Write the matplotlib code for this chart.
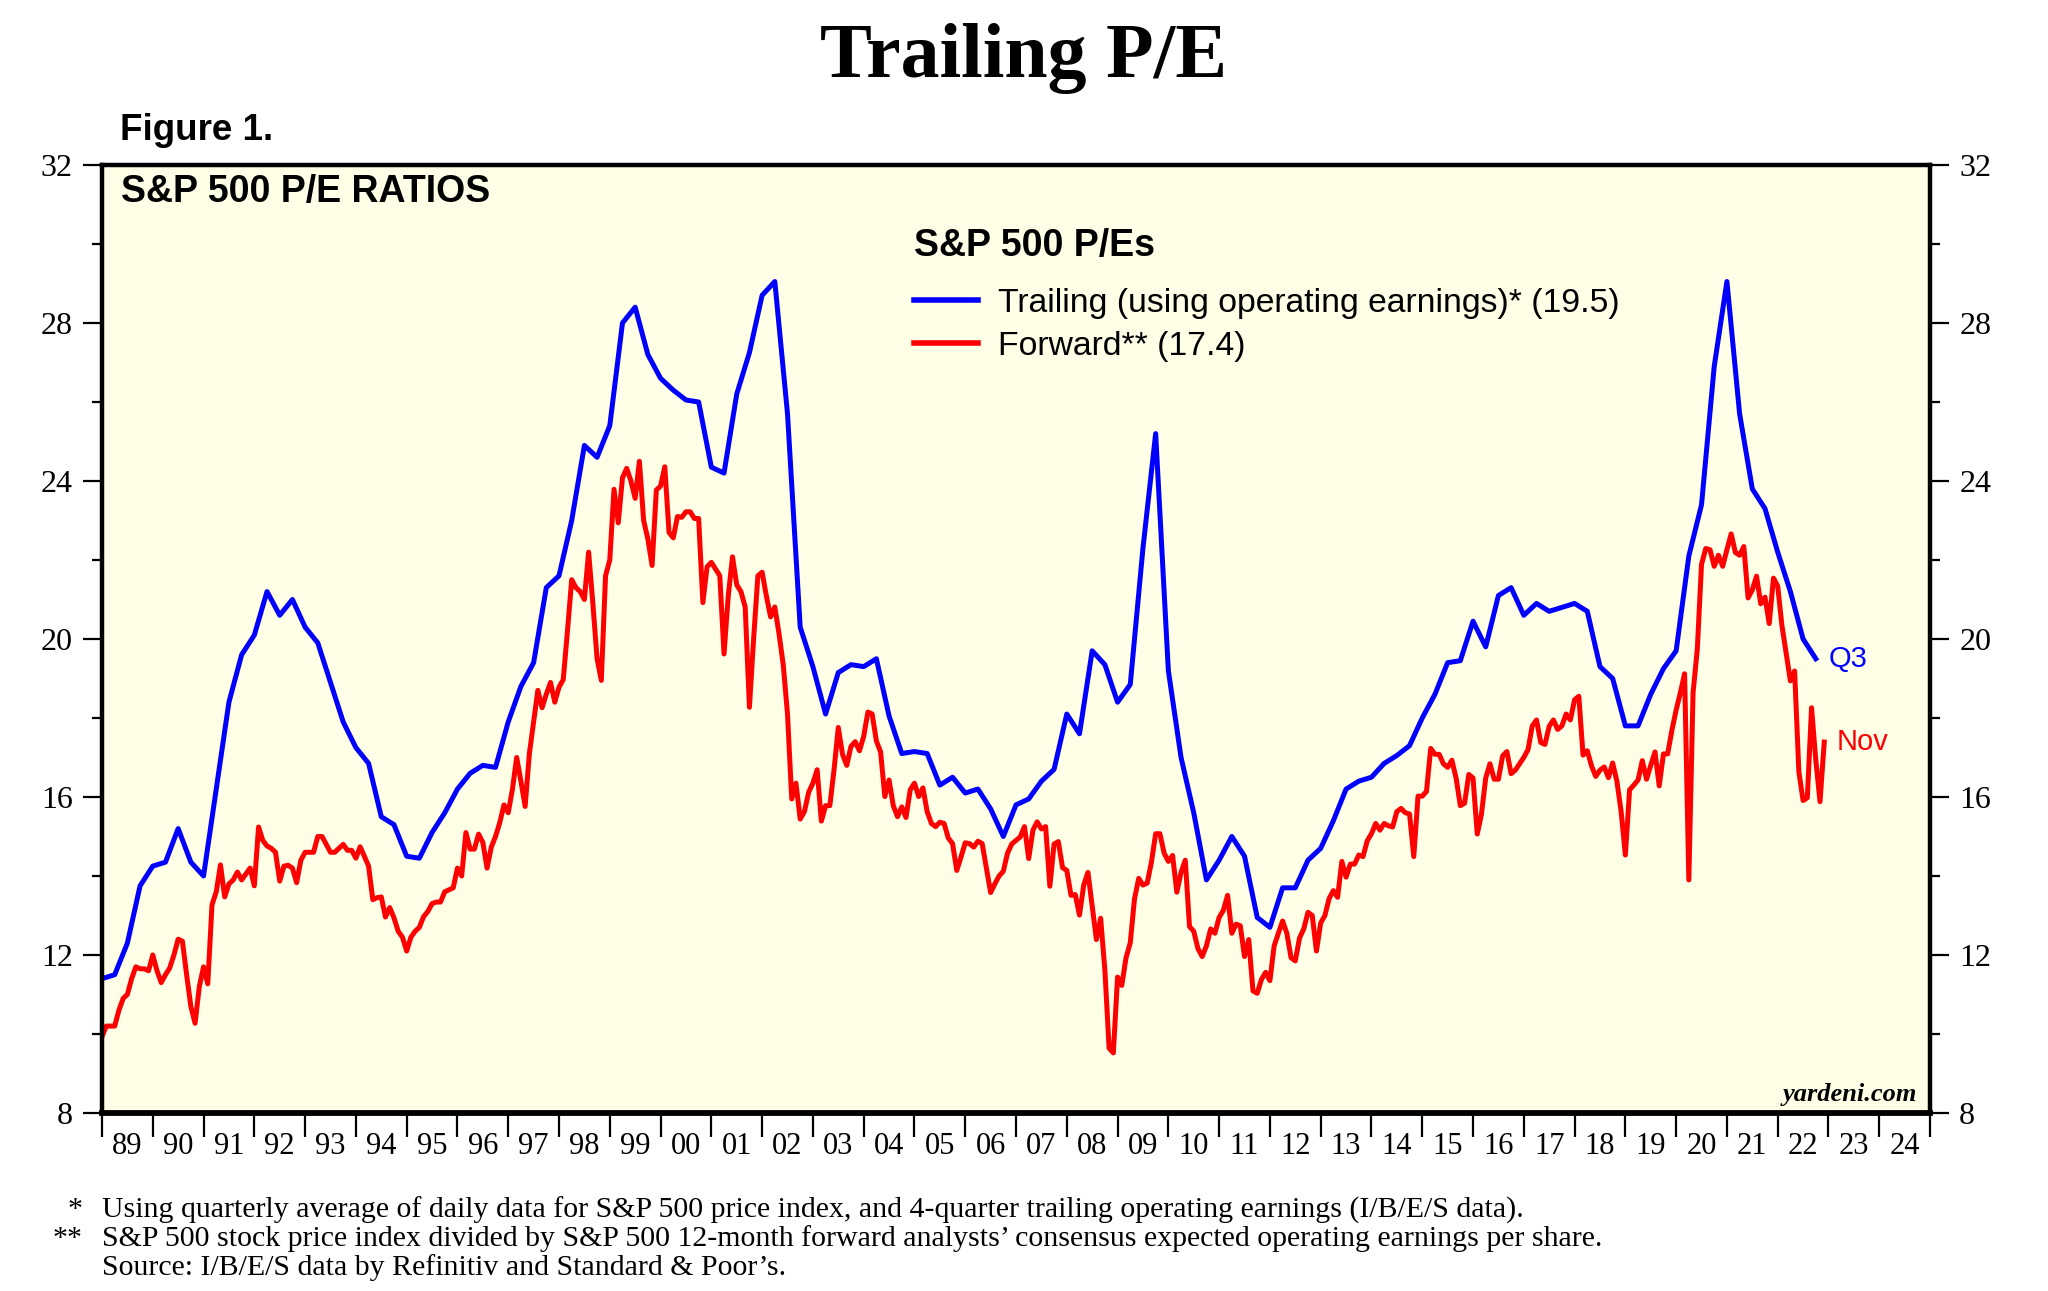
import numpy as np
import matplotlib.pyplot as plt

# S&P 500 trailing P/E (operating earnings), quarterly, 4 values per year
trailing = [
    11.4, 11.5, 12.3, 13.75,     # 89
    14.25, 14.35, 15.2, 14.35,   # 90
    14.0, 16.2, 18.4, 19.6,      # 91
    20.1, 21.2, 20.6, 21.0,      # 92
    20.3, 19.9, 18.9, 17.9,      # 93
    17.25, 16.85, 15.5, 15.3,    # 94
    14.5, 14.45, 15.1, 15.6,     # 95
    16.2, 16.6, 16.8, 16.75,     # 96
    17.9, 18.8, 19.4, 21.3,      # 97
    21.6, 23.0, 24.9, 24.6,      # 98
    25.4, 28.0, 28.4, 27.2,      # 99
    26.6, 26.3, 26.05, 26.0,     # 00
    24.35, 24.2, 26.2, 27.25,    # 01
    28.7, 29.05, 25.7, 20.3,     # 02
    19.3, 18.1, 19.15, 19.35,    # 03
    19.3, 19.5, 18.05, 17.1,     # 04
    17.15, 17.1, 16.3, 16.5,     # 05
    16.1, 16.2, 15.7, 15.0,      # 06
    15.8, 15.95, 16.4, 16.7,     # 07
    18.1, 17.6, 19.7, 19.35,     # 08
    18.4, 18.85, 22.3, 25.2,     # 09
    19.2, 17.0, 15.6, 13.9,      # 10
    14.4, 15.0, 14.5, 12.95,     # 11
    12.7, 13.7, 13.7, 14.4,      # 12
    14.7, 15.4, 16.2, 16.4,      # 13
    16.5, 16.85, 17.05, 17.3,    # 14
    18.0, 18.6, 19.4, 19.45,     # 15
    20.45, 19.8, 21.1, 21.3,     # 16
    20.6, 20.9, 20.7, 20.8,      # 17
    20.9, 20.7, 19.3, 19.0,      # 18
    17.8, 17.8, 18.6, 19.25,     # 19
    19.7, 22.1, 23.4, 26.9,      # 20
    29.05, 25.7, 23.8, 23.3,     # 21
    22.2, 21.2, 20.0, 19.5,      # 22
]

# S&P 500 forward P/E, monthly, 12 values per year
forward = [
    9.93, 10.2, 10.2, 10.2, 10.6, 10.9, 11.0, 11.4, 11.7, 11.65, 11.65, 11.6,          # 89
    12.0, 11.6, 11.3, 11.5, 11.67, 12.0, 12.4, 12.35, 11.5, 10.7, 10.27, 11.2,         # 90
    11.7, 11.27, 13.27, 13.6, 14.28, 13.47, 13.8, 13.9, 14.1, 13.9, 14.05, 14.2,       # 91
    13.75, 15.24, 14.9, 14.76, 14.7, 14.6, 13.87, 14.25, 14.27, 14.2, 13.83, 14.4,     # 92
    14.6, 14.6, 14.6, 15.0, 15.0, 14.8, 14.6, 14.6, 14.7, 14.8, 14.65, 14.65,          # 93
    14.45, 14.74, 14.5, 14.25, 13.4, 13.45, 13.47, 12.96, 13.2, 12.94, 12.6, 12.45,    # 94
    12.1, 12.45, 12.6, 12.7, 12.97, 13.1, 13.3, 13.34, 13.34, 13.6, 13.65, 13.7,       # 95
    14.2, 14.0, 15.1, 14.68, 14.68, 15.06, 14.85, 14.2, 14.73, 15.0, 15.35, 15.8,      # 96
    15.6, 16.2, 17.0, 16.4, 15.76, 17.1, 17.9, 18.7, 18.26, 18.6, 18.9, 18.4,          # 97
    18.78, 18.97, 20.2, 21.5, 21.3, 21.2, 21.0, 22.2, 20.9, 19.5, 18.95, 21.6,         # 98
    22.0, 23.79, 22.94, 24.08, 24.32, 24.0, 23.56, 24.5, 23.0, 22.53, 21.86, 23.77,    # 99
    23.87, 24.36, 22.7, 22.56, 23.1, 23.08, 23.22, 23.22, 23.05, 23.05, 20.92, 21.83,  # 00
    21.94, 21.77, 21.6, 19.62, 21.09, 22.08, 21.37, 21.2, 20.81, 18.27, 20.02, 21.6,   # 01
    21.69, 21.09, 20.56, 20.81, 20.13, 19.34, 18.1, 15.95, 16.35, 15.44, 15.63, 16.12, # 02
    16.35, 16.69, 15.39, 15.78, 15.78, 16.69, 17.76, 17.08, 16.8, 17.28, 17.4, 17.17,  # 03
    17.53, 18.15, 18.1, 17.42, 17.14, 16.01, 16.43, 15.78, 15.5, 15.75, 15.48, 16.18,  # 04
    16.35, 16.01, 16.23, 15.63, 15.33, 15.25, 15.36, 15.33, 14.96, 14.82, 14.14, 14.48, # 05
    14.84, 14.82, 14.73, 14.88, 14.82, 14.2, 13.58, 13.8, 14.0, 14.12, 14.58, 14.81,   # 06
    14.9, 14.99, 15.25, 14.44, 15.16, 15.37, 15.19, 15.25, 13.74, 14.81, 14.87, 14.21, # 07
    14.14, 13.51, 13.53, 13.01, 13.77, 14.09, 13.24, 12.39, 12.93, 11.62, 9.64, 9.52,  # 08
    11.44, 11.23, 11.93, 12.31, 13.42, 13.94, 13.77, 13.82, 14.35, 15.07, 15.07, 14.58, # 09
    14.37, 14.52, 13.59, 14.09, 14.4, 12.72, 12.6, 12.16, 11.96, 12.23, 12.66, 12.55,  # 10
    12.95, 13.13, 13.51, 12.55, 12.78, 12.74, 11.96, 12.39, 11.09, 11.03, 11.38, 11.56, # 11
    11.35, 12.23, 12.55, 12.86, 12.55, 11.93, 11.85, 12.43, 12.66, 13.08, 13.0, 12.1,  # 12
    12.81, 13.0, 13.43, 13.63, 13.46, 14.37, 13.97, 14.3, 14.3, 14.53, 14.49, 14.89,   # 13
    15.07, 15.33, 15.16, 15.33, 15.27, 15.24, 15.63, 15.71, 15.6, 15.57, 14.49, 16.02, # 14
    16.02, 16.14, 17.23, 17.08, 17.08, 16.84, 16.75, 16.93, 16.48, 15.78, 15.84, 16.57, # 15
    16.48, 15.06, 15.57, 16.48, 16.84, 16.45, 16.45, 17.04, 17.15, 16.59, 16.68, 16.84, # 16
    17.0, 17.2, 17.8, 17.95, 17.38, 17.33, 17.79, 17.95, 17.71, 17.8, 18.1, 17.95,     # 17
    18.46, 18.55, 17.06, 17.17, 16.79, 16.52, 16.68, 16.76, 16.49, 16.86, 16.4, 15.63, # 18
    14.53, 16.18, 16.3, 16.43, 16.92, 16.45, 16.8, 17.14, 16.28, 17.09, 17.09, 17.69,  # 19
    18.2, 18.64, 19.12, 13.9, 18.64, 19.74, 21.89, 22.29, 22.26, 21.84, 22.12, 21.84,  # 20
    22.26, 22.66, 22.19, 22.12, 22.34, 21.04, 21.24, 21.59, 20.89, 21.06, 20.39, 21.54, # 21
    21.34, 20.34, 19.64, 18.94, 19.19, 16.64, 15.91, 15.98, 18.26, 16.94, 15.88, 17.39, # 22
]

years = list(range(1989, 2025))
year_labels = [f"{y % 100:02d}" for y in years]
y_ticks = [8, 12, 16, 20, 24, 28, 32]

t_trailing = 1989 + np.arange(len(trailing)) / 4
t_forward = 1989 + np.arange(len(forward)) / 12

serif = "Liberation Serif"
sans = "Liberation Sans"

fig = plt.figure(figsize=(20.48, 12.91), dpi=100)
ax = fig.add_axes([0.0498, 0.1379, 0.8926, 0.7343])
ax.set_facecolor("#fffee6")

ax.plot(t_trailing, trailing, color="#0000ff", lw=3.6,
        label=f"Trailing (using operating earnings)* ({trailing[-1]:.1f})")
ax.plot(t_forward, forward, color="#ff0000", lw=3.6,
        label=f"Forward** ({forward[-1]:.1f})")

ax.set_xlim(1989, 2025)
ax.set_ylim(8, 32)

# x axis: ticks at year boundaries, labels centred in between
ax.set_xticks(np.arange(1989, 2026))
ax.set_xticks(np.array(years) + 0.5, minor=True)
ax.set_xticklabels(year_labels, minor=True, fontfamily=serif, fontsize=22)
ax.tick_params(axis="x", which="major", length=17, width=1.6, labelbottom=False)
ax.tick_params(axis="x", which="minor", length=0, pad=14)

# y axis on both sides
ax.set_yticks(y_ticks)
ax.set_yticks(np.arange(8, 33, 2), minor=True)
ax.yaxis.set_ticks_position("both")
ax.tick_params(axis="y", which="major", length=14, width=1.6, labelright=True,
               labelsize=23, pad=7)
ax.tick_params(axis="y", which="minor", length=7, width=1.6)
for t in ax.yaxis.get_major_ticks():
    t.label1.set_fontfamily(serif)
    t.label2.set_fontfamily(serif)

for sp in ax.spines.values():
    sp.set_linewidth(3.2)
ax.spines["bottom"].set_linewidth(4.2)

ax.text(0.444, 0.9146, "S&P 500 P/Es", transform=ax.transAxes,
        fontfamily=sans, fontweight="bold", fontsize=27, ha="left", va="center")
leg = ax.legend(loc="upper left", bbox_to_anchor=(0.444, 0.870), frameon=False,
                prop={"family": sans, "size": 24.3}, handlelength=1.9,
                handletextpad=0.6, labelspacing=0.35, borderpad=0, borderaxespad=0)
for h in leg.get_lines():
    h.set_linewidth(4)

ax.text(0.0104, 0.9715, "S&P 500 P/E RATIOS", transform=ax.transAxes,
        fontfamily=sans, fontweight="bold", fontsize=27, va="center", ha="left")
ax.text(0.993, 0.013, "yardeni.com", transform=ax.transAxes, fontfamily=serif,
        fontstyle="italic", fontweight="bold", fontsize=19, ha="right", va="baseline")

ax.text(t_trailing[-1] + 0.25, trailing[-1], "Q3", color="#0000ff",
        fontfamily=sans, fontsize=21, ha="left", va="center")
ax.text(t_forward[-1] + 0.25, forward[-1], "Nov", color="#ff0000",
        fontfamily=sans, fontsize=21, ha="left", va="center")

fig.text(0.5, 0.955, "Trailing P/E", fontfamily=serif, fontweight="bold",
         fontsize=56, ha="center", va="center")
fig.text(0.0586, 0.899, "Figure 1.", fontfamily=sans, fontweight="bold",
         fontsize=26.5, ha="left", va="center")

notes = [
    ("*", "Using quarterly average of daily data for S&P 500 price index, and 4-quarter trailing operating earnings (I/B/E/S data)."),
    ("**", "S&P 500 stock price index divided by S&P 500 12-month forward analysts\u2019 consensus expected operating earnings per share."),
    ("", "Source: I/B/E/S data by Refinitiv and Standard & Poor\u2019s."),
]
for i, (mark, line) in enumerate(notes):
    yy = 1 - (1210 + 29 * i) / 1291
    fig.text(0.0405, yy, mark, fontfamily=serif, fontsize=21.5, ha="right", va="center")
    fig.text(0.0498, yy, line, fontfamily=serif, fontsize=21.5, ha="left", va="center")

fig.savefig("out.png", dpi=100)
